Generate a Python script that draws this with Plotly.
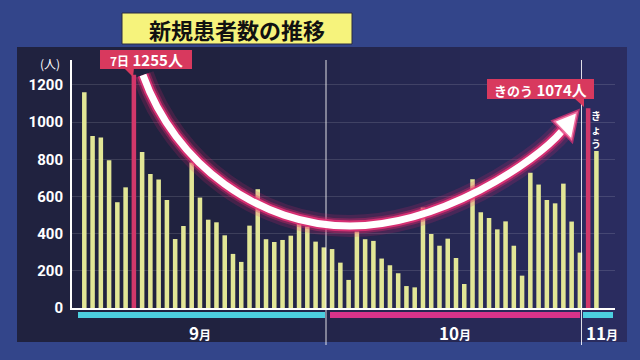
import plotly.graph_objects as go

# ---- data ----
sep_values = [1160, 925, 917, 795, 569, 649, 1255, 839, 721, 691, 581, 371, 441, 782, 594,
              475, 461, 391, 291, 248, 443, 639, 370, 355, 366, 389, 452, 438, 357, 326]
oct_values = [317, 244, 151, 411, 370, 361, 266, 230, 187, 118, 111, 540, 398, 335, 373,
              269, 129, 692, 515, 484, 423, 466, 335, 174, 728, 664, 581, 563, 669, 465, 298]
nov_values = [1074, 845]

sep_days = [f"9/{d}" for d in range(1, len(sep_values) + 1)]
oct_days = [f"10/{d}" for d in range(1, len(oct_values) + 1)]
nov_days = [f"11/{d}" for d in range(1, len(nov_values) + 1)]
categories = sep_days + oct_days + nov_days
values = sep_values + oct_values + nov_values
highlight_days = ["9/7", "11/1"]
y_ticks = [0, 200, 400, 600, 800, 1000, 1200]
month_labels = ["9", "10", "11"]

# ---- styles ----
YELLOW = "#e2e696"
PINK = "#d2386a"
CYAN = "#4ccfdf"
MAGENTA = "#d8338a"
BOX_RED = "#d8395e"
JP = "Noto Sans CJK JP"

W, H = 640, 360
L, R, T, B = 72, 25, 60, 52
PW, PH = W - L - R, H - T - B


def px(x):
    return (x - L) / PW


def py(y):
    return (H - B - y) / PH


colors = [PINK if c in highlight_days else YELLOW for c in categories]

fig = go.Figure()
fig.add_bar(x=categories, y=values, marker_color=colors, marker_line_width=0,
            hoverinfo="x+y")

shapes = []
# panel background with a soft left-to-right lightening
shapes.append(dict(type="rect", xref="paper", yref="paper", x0=px(17), x1=px(627),
                   y0=py(342), y1=py(47), fillcolor="#20223f", line_width=0, layer="below"))
for xb in range(220, 627, 40):
    shapes.append(dict(type="rect", xref="paper", yref="paper", x0=px(xb), x1=px(627),
                       y0=py(342), y1=py(47), fillcolor="rgba(70,80,160,0.045)",
                       line_width=0, layer="below"))

# month strips
for x0, x1, col in [(78, 325, CYAN), (330, 580, MAGENTA), (583, 613, CYAN)]:
    shapes.append(dict(type="rect", xref="paper", yref="paper", x0=px(x0), x1=px(x1),
                       y0=py(318), y1=py(312), fillcolor=col, line_width=0))
# month separators
for xs in [326, 581.5]:
    shapes.append(dict(type="line", xref="paper", yref="paper", x0=px(xs), x1=px(xs),
                       y0=py(345), y1=py(60), line=dict(color="rgba(255,255,255,0.85)", width=1)))


def pt(x, y):
    return f"{px(x):.5f},{py(y):.5f}"


# curved arrow (decoration)
curve = (f"M {pt(143, 75)} C {pt(175, 165)} {pt(260, 226)} {pt(350, 226)} "
         f"C {pt(440, 226)} {pt(536, 162)} {pt(562, 131)}")
for col, wdt in [("rgba(230,40,110,0.18)", 22), ("rgba(230,40,110,0.35)", 15),
                 ("rgba(235,50,120,0.8)", 11), ("#ffffff", 7)]:
    shapes.append(dict(type="path", xref="paper", yref="paper", path=curve,
                       line=dict(color=col, width=wdt)))
head = f"M {pt(578, 111)} L {pt(553, 121)} L {pt(572, 141)} Z"
shapes.append(dict(type="path", xref="paper", yref="paper", path=head,
                   fillcolor="#ffffff", line=dict(color="rgba(235,50,120,0.7)", width=3)))

# title box
shapes.append(dict(type="rect", xref="paper", yref="paper", x0=px(122), x1=px(352),
                   y0=py(44), y1=py(13), fillcolor="#f6f37c",
                   line=dict(color="#2a2a40", width=1)))
# callout boxes
shapes.append(dict(type="rect", xref="paper", yref="paper", x0=px(100), x1=px(192),
                   y0=py(69), y1=py(50), fillcolor=BOX_RED, line_width=0))
shapes.append(dict(type="path", xref="paper", yref="paper",
                   path=f"M {pt(124, 68)} L {pt(134, 68)} L {pt(133, 77)} Z",
                   fillcolor=BOX_RED, line_width=0))
shapes.append(dict(type="rect", xref="paper", yref="paper", x0=px(487), x1=px(594),
                   y0=py(99), y1=py(79), fillcolor=BOX_RED, line_width=0))
shapes.append(dict(type="path", xref="paper", yref="paper",
                   path=f"M {pt(574, 98)} L {pt(584, 98)} L {pt(584, 107)} Z",
                   fillcolor=BOX_RED, line_width=0))

annotations = []


def note(x, y, text, size, color="white", weight="bold"):
    annotations.append(dict(xref="paper", yref="paper", x=px(x), y=py(y), text=text,
                            showarrow=False, xanchor="center", yanchor="middle",
                            borderpad=0,
                            font=dict(family=JP, size=size, color=color, weight=weight)))


note(237, 28.5, "新規患者数の推移", 22, color="#111111")
note(146, 59.5, "<span style='font-size:12px'>7日</span> 1255人", 15)
note(540, 89, "<span style='font-size:13px'>きのう</span> 1074人", 15)
for i, ch in enumerate("きょう"):
    note(596, 115 + 14 * i, ch, 10)
note(50, 63, "(人)", 12, weight="normal")
for lab, xc in zip(month_labels, [200, 455, 602]):
    note(xc, 332, f"{lab}<span style='font-size:12px'>月</span>", 17)

fig.update_layout(
    width=W, height=H,
    margin=dict(l=L, r=R, t=T, b=B),
    paper_bgcolor="#33458a",
    plot_bgcolor="rgba(0,0,0,0)",
    bargap=0.45,
    showlegend=False,
    shapes=shapes,
    annotations=annotations,
    xaxis=dict(type="category", range=[-1.49, 64.25], showticklabels=False,
               showgrid=False, zeroline=False, showline=True, linecolor="white",
               linewidth=2, ticks=""),
    yaxis=dict(range=[0, 1334], tickvals=y_ticks, showgrid=True,
               gridcolor="rgba(255,255,255,0.13)", gridwidth=1, zeroline=False,
               showline=True, linecolor="white", linewidth=2, ticks="",
               ticklabelstandoff=4,
               tickfont=dict(family="Roboto", size=15, color="white", weight="bold")),
)

fig.write_html("out.html", config={"displayModeBar": False},
               post_script="document.body.style.margin='0';document.body.style.background='#33458a';")
